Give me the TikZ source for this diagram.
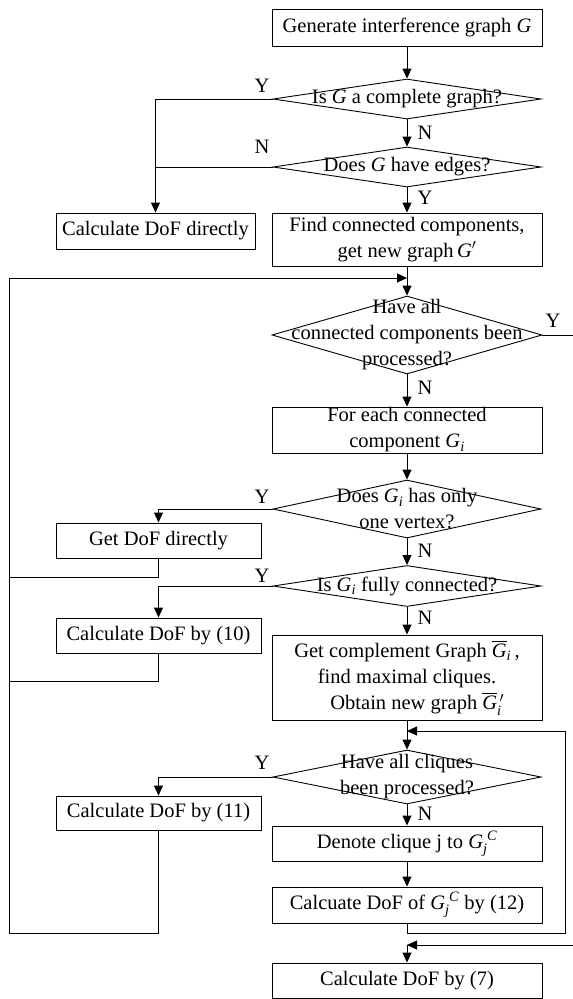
\documentclass[tikz,border=0pt]{standalone}
\usepackage{amsmath}
\usepackage{fontspec}
\setmainfont{Liberation Serif}
\usetikzlibrary{shapes.geometric,arrows.meta}
\tikzset{
  base/.style={font=\fontsize{20.5}{26}\selectfont, line width=0.9pt},
  procbox/.style={draw, line width=0.9pt, rectangle, inner sep=0pt, align=center, minimum width=#1},
  decision/.style={draw, line width=0.9pt, shape=diamond, inner sep=0pt, minimum width=268pt},
  dtext/.style={align=center, inner sep=0pt},
  conn/.style={line width=0.9pt, -{Triangle[length=10pt,width=9pt]}},
  plain/.style={line width=0.9pt},
  yn/.style={inner sep=0pt}
}
\newcommand{\Gi}{\textit{G}\textsubscript{\textit{i}}}
\begin{document}
\begin{tikzpicture}[x=1pt,y=-1pt,base]
\useasboundingbox (0,0) rectangle (573,999);
% right column
\node[procbox=270pt, minimum height=37pt] (start) at (407,27.5) {Generate interference graph \textit{G}};
\node[decision, minimum height=40pt, label={[dtext]center:Is \textit{G} a complete graph?}] (d1) at (407,99) {};
\node[decision, minimum height=40pt, label={[dtext]center:Does \textit{G} have edges?}] (d2) at (407,167) {};
\node[procbox=270pt, minimum height=53pt] (find) at (407,239.5) {Find connected components,\\ get new graph$\,\textit{G}'$};
\node[decision, minimum height=78pt, minimum width=270pt, label={[dtext]center:Have all\\connected components been\\processed?}] (d3) at (407,335) {};
\node[procbox=270pt, minimum height=46pt] (foreach) at (407,430) {For each connected\\ component \Gi};
\node[decision, minimum height=58pt, label={[dtext]center:Does \Gi{} has only\\one vertex?}] (d4) at (407,509) {};
\node[decision, minimum height=41pt, label={[dtext]center:Is \Gi{} fully connected?}] (d5) at (407,586) {};
\node[procbox=270pt, minimum height=85pt] (compl) at (407,677.5) {Get complement Graph $\overline{\textit{G}}_{\textit{i}}$\,,\\ find maximal cliques.\\ \hspace*{1em}Obtain new graph $\overline{\textit{G}}{}_{\textit{i}}^{\,\prime}$};
\node[decision, minimum height=54pt, label={[dtext]center:Have all cliques\\been processed?}] (d6) at (407,777) {};
\node[procbox=270pt, minimum height=35pt] (denote) at (407,843.5) {Denote clique j to $\textit{G}_{\textit{j}}^{\;\textit{C}}$};
\node[procbox=270pt, minimum height=36pt] (calc12) at (407,905) {Calcuate DoF of $\textit{G}_{\textit{j}}^{\;\textit{C}}$ by (12)};
\node[procbox=270pt, minimum height=35pt] (calc7) at (407,980.5) {Calculate DoF by (7)};
% left column
\node[procbox=199pt, minimum height=36pt] (direct) at (155.5,231) {Calculate DoF directly};
\node[procbox=205pt, minimum height=35pt] (getdof) at (158.5,540.5) {Get DoF directly};
\node[procbox=205pt, minimum height=35pt] (calc10) at (158.5,635.5) {Calculate DoF by (10)};
\node[procbox=205pt, minimum height=34pt] (calc11) at (158.5,813) {Calculate DoF by (11)};
% junction coordinates
\coordinate (m1) at (407,278);
\coordinate (m2) at (407,731);
\coordinate (m3) at (407,945);
\coordinate (lb) at (9,933);
\coordinate (lj1) at (9,577);
\coordinate (lj2) at (9,681);
\coordinate (rl) at (565,933);
\coordinate (ry) at (582,335);
% main flow
\draw[conn] (start) -- (d1);
\draw[conn] (d1) -- (d2);
\draw[conn] (d2) -- (find);
\draw[plain] (find) -- (m1);
\draw[conn] (m1) -- (d3);
\draw[conn] (d3) -- (foreach);
\draw[conn] (foreach) -- (d4);
\draw[conn] (d4) -- (d5);
\draw[conn] (d5) -- (compl);
\draw[plain] (compl) -- (m2);
\draw[conn] (m2) -- (d6);
\draw[conn] (d6) -- (denote);
\draw[conn] (denote) -- (calc12);
\draw[conn] (m3) -- (calc7);
% left branches
\draw[conn] (d1.west) -| (direct.north);
\draw[plain] (d2.west) -- (d2.west -| direct.north);
\draw[conn] (d4.west) -| (getdof.north);
\draw[conn] (d5.west) -| (calc10.north);
\draw[conn] (d6.west) -| (calc11.north);
% loops back
\draw[plain] (getdof.south) |- (lj1);
\draw[plain] (calc10.south) |- (lj2);
\draw[conn] (calc11.south) |- (lb) |- (m1);
\draw[conn] (calc12.south) |- (rl) |- (m2);
\draw[conn] (d3.east) -- (ry) |- (m3);
% labels
\node[yn] (y1) at (262,86) {Y};
\node[yn] (n1) at (425,133) {N};
\node[yn] (n2) at (262,147) {N};
\node[yn] (y2) at (425,198) {Y};
\node[yn] (y3) at (553,321) {Y};
\node[yn] (n3) at (425,388) {N};
\node[yn] (y4) at (262,497) {Y};
\node[yn] (n4) at (425,551) {N};
\node[yn] (y5) at (262,576) {Y};
\node[yn] (n5) at (425,618) {N};
\node[yn] (y6) at (262,763) {Y};
\node[yn] (n6) at (425,814) {N};
\end{tikzpicture}
\end{document}
